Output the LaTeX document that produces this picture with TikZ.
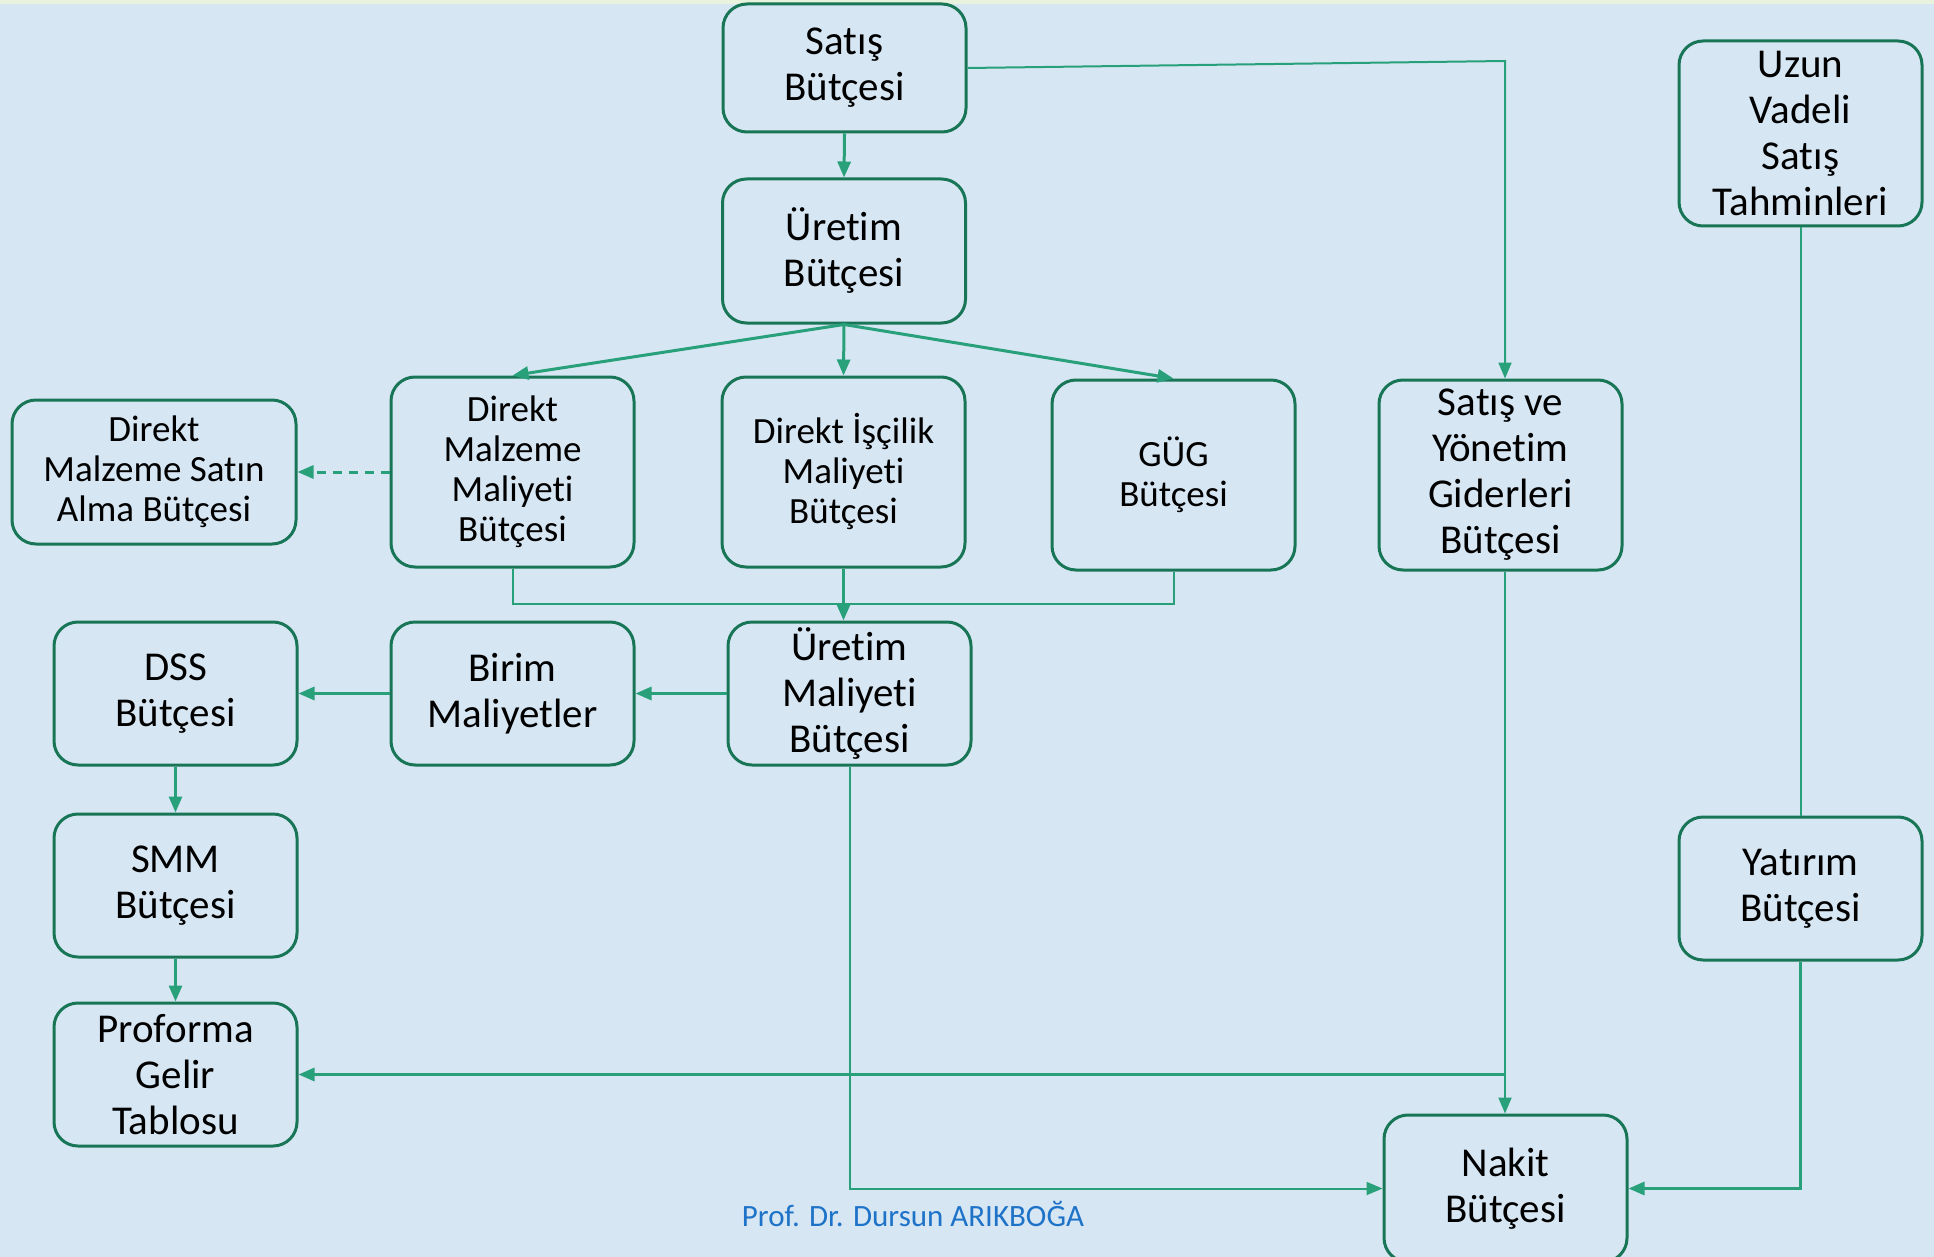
\documentclass[tikz,border=0pt]{standalone}
\usepackage{fontspec}
\setmainfont{Carlito}[Ligatures=NoCommon]
\usetikzlibrary{arrows.meta}
\definecolor{bg}{RGB}{214,230,243}
\definecolor{strip}{RGB}{232,242,220}
\definecolor{boxc}{RGB}{24,118,86}
\definecolor{linec}{RGB}{40,160,122}
\definecolor{foot}{RGB}{30,115,200}
\begin{document}
\begin{tikzpicture}[x=1pt,y=-1pt,
  bx/.style={draw=boxc, line width=3pt, rounded corners=24pt, minimum width=243pt, align=center, inner sep=2pt, font=\fontsize{41}{46}\selectfont},
  sm/.style={font=\fontsize{37}{40}\selectfont},
  arr/.style={draw=linec, line width=3pt, -{Triangle[length=16pt,width=13pt]}},
  thinarr/.style={draw=linec, line width=2pt, -{Triangle[length=16pt,width=13pt]}},
  ln/.style={draw=linec, line width=2pt}]
\fill[bg] (0,0) rectangle (1934,1257);
\fill[strip] (0,0) rectangle (1934,4);
\clip (0,0) rectangle (1934,1257);
\useasboundingbox (0,0) rectangle (1934,1257);

\node[bx, minimum height=128pt] (satis) at (844.5,68) {Satış\\Bütçesi};
\node[bx, minimum height=144pt] (uretim) at (844,251) {Üretim\\Bütçesi};
\node[bx, sm, minimum height=190pt] (dmm) at (512.5,472) {Direkt\\Malzeme\\Maliyeti\\Bütçesi};
\node[bx, sm, minimum height=190pt] (dim) at (843.5,472) {Direkt İşçilik\\Maliyeti\\Bütçesi};
\node[bx, sm, minimum height=190pt] (gug) at (1173.5,475) {GÜG\\Bütçesi};
\node[bx, minimum height=190pt] (sy) at (1500.5,475) {Satış ve\\Yönetim\\Giderleri\\Bütçesi};
\node[bx, minimum height=185pt] (uzun) at (1800.5,133.5) {Uzun\\Vadeli\\Satış\\Tahminleri};
\node[bx, sm, minimum width=284pt, minimum height=144pt] (dmsa) at (154,472) {Direkt\\Malzeme Satın\\Alma Bütçesi};
\node[bx, minimum height=143pt] (dss) at (175.5,693.5) {DSS\\Bütçesi};
\node[bx, minimum height=143pt] (birim) at (512.5,693.5) {Birim\\Maliyetler};
\node[bx, minimum height=143pt] (umb) at (849.5,693.5) {Üretim\\Maliyeti\\Bütçesi};
\node[bx, minimum height=143pt] (smm) at (175.5,885.5) {SMM\\Bütçesi};
\node[bx, minimum height=143pt] (proforma) at (175.5,1074.5) {Proforma\\Gelir\\Tablosu};
\node[bx, minimum height=143pt] (yatirim) at (1800.5,888.5) {Yatırım\\Bütçesi};
\node[bx, minimum height=147pt] (nakit) at (1505.5,1188.5) {Nakit\\Bütçesi};

\node[text=foot, font=\fontsize{31}{36}\selectfont] (footer) at (913,1214) {Prof. Dr. Dursun ARIKBOĞA};

\coordinate (c1) at (1505,61);
\draw[arr] (satis.south) -- (uretim.north);
\draw[thinarr] (satis.east) -- (c1) -- (sy.north -| c1);
\draw[arr] (uretim.south) -- (dmm.north);
\draw[arr] (uretim.south) -- (dim.north);
\draw[arr] (uretim.south) -- (gug.north);
\draw[arr, dash pattern=on 9pt off 7pt] (dmm.west) -- (dmsa.east);
\draw[ln] (dmm.south) -- (dmm.south |- 0,604) -- (gug.south |- 0,604) -- (gug.south);
\draw[arr] (dim.south) -- (dim.south |- umb.north);
\draw[arr] (umb.west) -- (birim.east);
\draw[arr] (birim.west) -- (dss.east);
\draw[arr] (dss.south) -- (smm.north);
\draw[arr] (smm.south) -- (proforma.north);
\draw[thinarr] (umb.south) -- (umb.south |- nakit.west) -- (nakit.west);
\draw[thinarr] (sy.south -| c1) -- (nakit.north -| c1);
\draw[arr] (c1 |- proforma.east) -- (proforma.east);
\draw[ln] (uzun.south) -- (yatirim.north);
\draw[arr] (yatirim.south) -- (yatirim.south |- nakit.east) -- (nakit.east);
\end{tikzpicture}
\end{document}
